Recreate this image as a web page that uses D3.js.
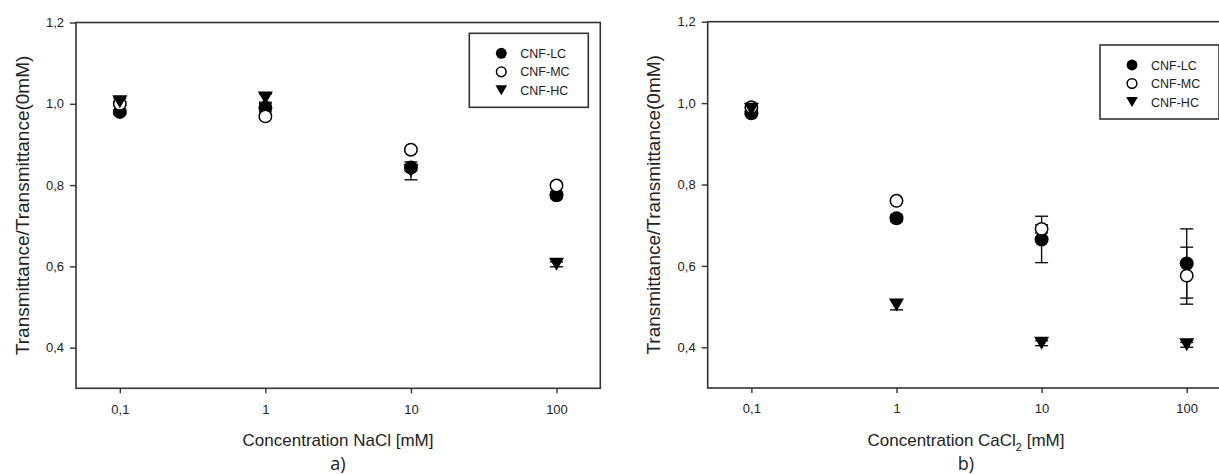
<!DOCTYPE html>
<html>
<head>
<meta charset="utf-8">
<script src="https://cdn.jsdelivr.net/npm/d3@7"></script>
<style>
  html, body { margin: 0; padding: 0; background: #fff; }
  svg { display: block; }
  text { font-family: "Liberation Sans", Arial, sans-serif; fill: #222; }
</style>
</head>
<body>
<svg id="chart" width="1219" height="474"></svg>
<script>
// Salt concentrations [mM] shared by both panels
const concentrations = [0.1, 1, 10, 100];
const xTickLabels = ["0,1", "1", "10", "100"];
const yTickValues = [0.4, 0.6, 0.8, 1.0, 1.2];
const seriesNames = ["CNF-LC", "CNF-MC", "CNF-HC"];

// a) NaCl — relative transmittance and error
const naclLC = [0.980, 0.990, 0.843, 0.775];
const naclMC = [1.000, 0.969, 0.887, 0.799];
const naclHC = [1.005, 1.014, 0.835, 0.605];
const naclLCErr = [0.005, 0.010, 0.008, 0.008];
const naclMCErr = [0.005, 0.005, 0.005, 0.005];
const naclHCErr = [0.008, 0.010, 0.022, 0.006];

// b) CaCl2 — relative transmittance and error
const caclLC = [0.975, 0.717, 0.665, 0.606];
const caclMC = [0.990, 0.760, 0.691, 0.576];
const caclHC = [0.985, 0.504, 0.410, 0.406];
const caclLCErr = [0.005, 0.008, 0.057, 0.085];
const caclMCErr = [0.005, 0.005, 0.010, 0.070];
const caclHCErr = [0.005, 0.012, 0.006, 0.006];

const svg = d3.select("#chart");
const commaFmt = v => d3.format(".1f")(v).replace(".", ",");

function drawPanel(p) {
  const x = d3.scaleLog().domain([0.05, 200]).range([p.left, p.right]);
  const y = d3.scaleLinear().domain([0.3, 1.2]).range([p.bottom, p.top]);
  const g = svg.append("g");

  // frame
  g.append("rect")
    .attr("x", p.left).attr("y", p.top)
    .attr("width", p.right - p.left).attr("height", p.bottom - p.top)
    .attr("fill", "none").attr("stroke", "#333").attr("stroke-width", 1.6);

  // axes
  const yAxis = g.append("g").attr("transform", `translate(${p.left},0)`)
    .call(d3.axisLeft(y).tickValues(yTickValues).tickFormat(commaFmt)
      .tickSize(6).tickPadding(6).tickSizeOuter(0));
  const xAxis = g.append("g").attr("transform", `translate(0,${p.bottom})`)
    .call(d3.axisBottom(x).tickValues(concentrations)
      .tickFormat((d, i) => xTickLabels[i]).tickSize(5).tickPadding(11).tickSizeOuter(0));
  [yAxis, xAxis].forEach(a => {
    a.select(".domain").remove();
    a.selectAll(".tick line").attr("stroke", "#333").attr("stroke-width", 1.4);
    a.selectAll(".tick text").style("font-family", "'Liberation Sans', Arial, sans-serif")
      .style("font-size", "13px").attr("fill", "#222");
  });

  // axis titles
  g.append("text")
    .attr("transform", `translate(${p.yTitleX},${(p.top + p.bottom) / 2}) rotate(-90)`)
    .attr("text-anchor", "middle").style("font-size", "19px")
    .text("Transmittance/Transmittance(0mM)");
  const xt = g.append("text")
    .attr("x", p.titleCenter).attr("y", 446)
    .attr("text-anchor", "middle").style("font-size", "17px");
  p.xTitle(xt);

  g.append("text")
    .attr("x", p.titleCenter).attr("y", 470)
    .attr("text-anchor", "middle")
    .style("font-family", "'Open Sans', 'Noto Sans', sans-serif")
    .style("font-size", "18px").attr("fill", "#111")
    .text(p.tag);

  // error bars and markers
  const series = [
    { vals: p.lc, err: p.lcErr, kind: "filled" },
    { vals: p.mc, err: p.mcErr, kind: "open" },
    { vals: p.hc, err: p.hcErr, kind: "triangle" }
  ];
  const capW = 6.5;
  series.forEach(s => {
    const eb = g.append("g").attr("stroke", "#111").attr("stroke-width", 1.4);
    concentrations.forEach((c, i) => {
      const cx = x(c), hi = y(s.vals[i] + s.err[i]), lo = y(s.vals[i] - s.err[i]);
      eb.append("line").attr("x1", cx).attr("x2", cx).attr("y1", hi).attr("y2", lo);
      eb.append("line").attr("x1", cx - capW).attr("x2", cx + capW).attr("y1", hi).attr("y2", hi);
      eb.append("line").attr("x1", cx - capW).attr("x2", cx + capW).attr("y1", lo).attr("y2", lo);
    });
  });
  series.forEach(s => {
    concentrations.forEach((c, i) => {
      drawMarker(g, s.kind, x(c), y(s.vals[i]), 1);
    });
  });

  // legend
  const lg = g.append("g");
  lg.append("rect")
    .attr("x", p.legX).attr("y", p.legY).attr("width", 119).attr("height", 74)
    .attr("fill", "#fff").attr("stroke", "#333").attr("stroke-width", 1.6);
  ["filled", "open", "triangle"].forEach((k, i) => {
    const ly = p.legY + 20 + i * 18.5;
    drawMarker(lg, k, p.legX + 32, ly, 0.78);
    lg.append("text").attr("x", p.legX + 51).attr("y", ly + 4.5)
      .style("font-size", "12.5px").text(seriesNames[i]);
  });
}

function drawMarker(g, kind, cx, cy, s) {
  if (kind === "filled") {
    g.append("circle").attr("cx", cx).attr("cy", cy).attr("r", 7 * s).attr("fill", "#000");
  } else if (kind === "open") {
    g.append("circle").attr("cx", cx).attr("cy", cy).attr("r", 6.2 * s)
      .attr("fill", "#fff").attr("stroke", "#000").attr("stroke-width", 1.5);
  } else {
    const w = 7.5 * s, h = 6.5 * s;
    g.append("path")
      .attr("d", `M${cx - w},${cy - h}L${cx + w},${cy - h}L${cx},${cy + h}Z`)
      .attr("fill", "#000");
  }
}

drawPanel({
  left: 76, right: 600.3, top: 22.5, bottom: 388.3,
  yTitleX: 29, titleCenter: 338, tag: "a)",
  legX: 469.3, legY: 33.3,
  lc: naclLC, mc: naclMC, hc: naclHC,
  lcErr: naclLCErr, mcErr: naclMCErr, hcErr: naclHCErr,
  xTitle: t => t.text("Concentration NaCl [mM]")
});

drawPanel({
  left: 707.7, right: 1230.4, top: 21.7, bottom: 388,
  yTitleX: 660, titleCenter: 966, tag: "b)",
  legX: 1100, legY: 45,
  lc: caclLC, mc: caclMC, hc: caclHC,
  lcErr: caclLCErr, mcErr: caclMCErr, hcErr: caclHCErr,
  xTitle: t => {
    t.append("tspan").text("Concentration CaCl");
    t.append("tspan").attr("dy", 5).style("font-size", "11px").text("2");
    t.append("tspan").attr("dy", -5).text(" [mM]");
  }
});
</script>
</body>
</html>
